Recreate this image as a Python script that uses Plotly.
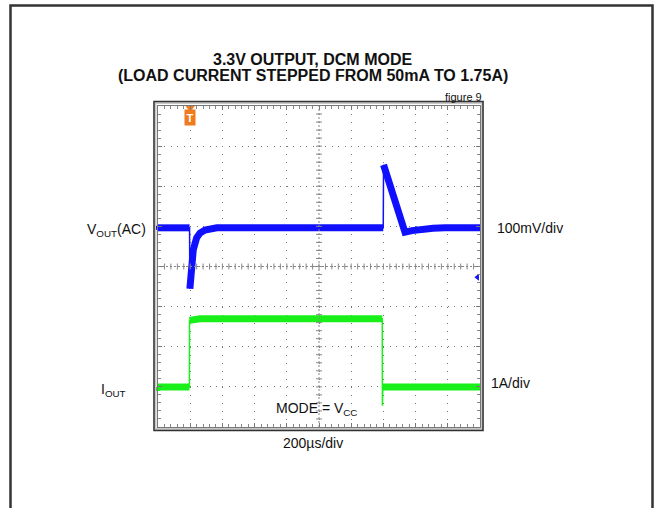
import plotly.graph_objects as go

# ---------------- data (read from the scope capture) ----------------
# time in microseconds (200 us/div, 10 divisions)
vout_t = [0, 196, 198, 209, 219, 240, 261, 292, 330, 365, 1399, 1401, 1528, 1534, 1578, 1627, 1708, 1783, 2000]
# output voltage deviation (AC coupled), mV
vout_mV = [0, 0, -152, -97, -55, -25, -13, -5.5, -2, 0, 0, 157, -10.5, -11, -7, -4, -1, 0, 0]

iout_t = [0, 195, 196, 215, 260, 1393, 1394, 1396, 2000]
# load current, A
iout_A = [0.05, 0.05, 1.71, 1.73, 1.75, 1.75, -0.42, 0.05, 0.05]

VOUT_SCALE_MV = 100.0   # mV/div
IOUT_SCALE_A = 1.0      # A/div
VOUT_POS = 0.964        # channel offset, div
IOUT_POS = -3.053       # channel offset, div
TRIG_T = 200            # trigger time, us
TRIG_LEVEL = -0.27      # trigger level marker, div

# ---------------- layout geometry ----------------
W, H = 654, 508
L, R, T, B = 158, 480, 106, 427   # plot area in px


def px(x):
    return (x - L) / (R - L)


def py(y):
    return (B - y) / (B - T)


def band(t, v, gap=3):
    xs, ys = [], []
    for i in range(len(t)):
        if i > 0 and t[i] - t[i - 1] < gap:
            xs.append(None)
            ys.append(None)
        xs.append(t[i])
        ys.append(v[i])
    return xs, ys


vout_div = [VOUT_POS + v / VOUT_SCALE_MV for v in vout_mV]
iout_div = [IOUT_POS + a / IOUT_SCALE_A for a in iout_A]

BLUE = "#1010ff"
GREEN = "#19f019"
ORANGE = "#f07a1e"

fig = go.Figure()

# noise band (thick) + thin edges
for t, v, col in [(vout_t, vout_div, BLUE), (iout_t, iout_div, GREEN)]:
    bx, by = band(t, v)
    fig.add_trace(go.Scatter(x=bx, y=by, mode="lines", line=dict(color=col, width=7),
                             connectgaps=False, hoverinfo="skip", showlegend=False))
    fig.add_trace(go.Scatter(x=t, y=v, mode="lines", line=dict(color=col, width=1.5),
                             hoverinfo="skip", showlegend=False))

# channel ground markers on left edge
fig.add_trace(go.Scatter(x=[0, 0], y=[VOUT_POS, IOUT_POS], mode="markers",
                         marker=dict(symbol="square", size=4, color=[BLUE, GREEN]),
                         cliponaxis=False, showlegend=False, hoverinfo="skip"))
# trigger level marker (right)
fig.add_trace(go.Scatter(x=[1984], y=[TRIG_LEVEL], mode="markers",
                         marker=dict(symbol="triangle-left", size=6, color=BLUE),
                         cliponaxis=False, showlegend=False, hoverinfo="skip"))
# trigger position marker (top)
fig.add_trace(go.Scatter(x=[TRIG_T], y=[3.95], mode="markers",
                         marker=dict(symbol="triangle-down", size=8, color=ORANGE),
                         cliponaxis=False, showlegend=False, hoverinfo="skip"))

shapes = []
# centre crosshair with minor ticks
shapes.append(dict(type="line", xref="x", yref="y", x0=0, x1=2000, y0=0, y1=0,
                   line=dict(color="#888", width=1, dash="2px,2px")))
shapes.append(dict(type="line", xref="x", yref="y", x0=1000, x1=1000, y0=-4, y1=4,
                   line=dict(color="#888", width=1, dash="2px,2px")))
for k in range(1, 50):
    shapes.append(dict(type="line", xref="x", yref="y", ysizemode="pixel", yanchor=0,
                       x0=k * 40, x1=k * 40, y0=-3, y1=3, line=dict(color="#888", width=1)))
for k in range(1, 40):
    yv = -4 + k * 0.2
    shapes.append(dict(type="line", xref="x", yref="y", xsizemode="pixel", xanchor=1000,
                       x0=-3, x1=3, y0=yv, y1=yv, line=dict(color="#888", width=1)))

# scope double frame
shapes.append(dict(type="rect", xref="paper", yref="paper",
                   x0=px(155), x1=px(482.5), y0=py(429.5), y1=py(102.5),
                   line=dict(color="#c8c8c8", width=3), layer="below"))
shapes.append(dict(type="rect", xref="paper", yref="paper",
                   x0=px(154), x1=px(483), y0=py(430.5), y1=py(101.5),
                   line=dict(color="#333", width=1.5)))
# outer page frame
shapes.append(dict(type="rect", xref="paper", yref="paper",
                   x0=px(10.5), x1=px(652.5), y0=py(515), y1=py(5.5),
                   line=dict(color="#333", width=2.5)))

ann = []
F = "Liberation Sans, Arial, sans-serif"


def label(text, x, y, xanchor="center", size=14, **kw):
    ann.append(dict(text=text, x=px(x), y=py(y), xref="paper", yref="paper",
                    xanchor=xanchor, yanchor="middle", showarrow=False,
                    font=dict(family=F, size=size, color="#111"), **kw))


label("<b>3.3V OUTPUT, DCM MODE</b>", 312, 59, size=16)
label("<b>(LOAD CURRENT STEPPED FROM 50mA TO 1.75A)</b>", 313, 75.5, size=16)
label("figure 9", 484, 97, xanchor="right", size=11)
label("V<sub>OUT</sub>(AC)", 148, 230, xanchor="right")
label("I<sub>OUT</sub>", 128, 390, xanchor="right")
label("100mV/div", 495, 228, xanchor="left")
label("1A/div", 489, 383, xanchor="left")
label("MODE = V<sub>CC</sub>", 274, 409, xanchor="left")
label("200µs/div", 313, 443)
ann.append(dict(text="<b>T</b>", x=TRIG_T, y=py(117), xref="x", yref="paper", showarrow=False,
                xanchor="center", yanchor="middle",
                bgcolor=ORANGE, borderpad=1.5, font=dict(family=F, size=11, color="white")))

fig.update_layout(
    width=W, height=H,
    margin=dict(l=L, r=W - R, t=T, b=H - B, pad=0),
    paper_bgcolor="white", plot_bgcolor="white",
    shapes=shapes, annotations=ann, showlegend=False,
)
fig.update_xaxes(range=[0, 2000], dtick=200, tick0=0, showticklabels=False,
                 showgrid=True, gridcolor="#777", gridwidth=1, griddash="1px,7.02px",
                 zeroline=False, showline=True, linecolor="#777", linewidth=1, mirror="ticks",
                 ticks="inside", ticklen=4, tickcolor="#777",
                 minor=dict(dtick=40, ticks="inside", ticklen=3, tickcolor="#888", showgrid=False))
fig.update_yaxes(range=[-4, 4], dtick=1, tick0=0, showticklabels=False,
                 showgrid=True, gridcolor="#777", gridwidth=1, griddash="1px,5.44px",
                 zeroline=False, showline=True, linecolor="#777", linewidth=1, mirror="ticks",
                 ticks="inside", ticklen=4, tickcolor="#777",
                 minor=dict(dtick=0.2, ticks="inside", ticklen=3, tickcolor="#888", showgrid=False))

fig.write_html("out.html", config={"displayModeBar": False},
               post_script="document.body.style.margin='0';document.body.style.overflow='hidden';")
